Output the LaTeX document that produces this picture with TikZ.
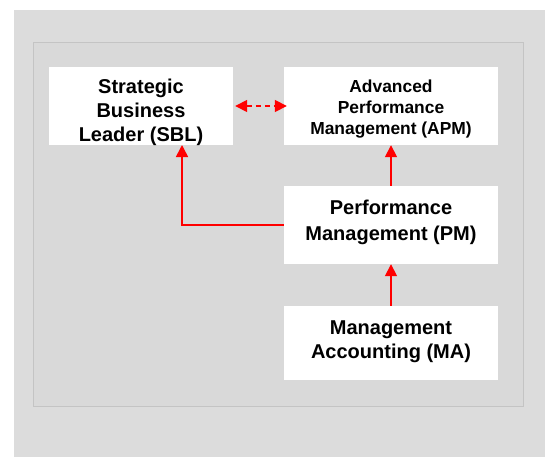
\documentclass[tikz,border=0pt]{standalone}
\usepackage{fontspec}
\setmainfont{Liberation Sans}
\usetikzlibrary{arrows.meta}
\definecolor{outerbg}{HTML}{DCDCDC}
\definecolor{innerbg}{HTML}{D9D9D9}
\definecolor{innerline}{HTML}{C4C4C4}
\definecolor{arrowred}{HTML}{FF0000}
\tikzset{
  box/.style={fill=white, draw=none, inner sep=0pt},
  txt/.style={inner sep=0pt, align=center, text=black},
  conn/.style={draw=arrowred, line width=1.6pt, -{Triangle[width=12pt,length=12pt]}},
  dconn/.style={draw=arrowred, line width=1.6pt, dash pattern=on 5pt off 4pt,
     {Triangle[width=12pt,length=12pt]}-{Triangle[width=12pt,length=12pt]}}
}
\begin{document}
\begin{tikzpicture}[x=1pt,y=-1pt]
\useasboundingbox (0,0) rectangle (545,457);
\fill[outerbg] (14,10) rectangle (545,457);
\filldraw[fill=innerbg, draw=innerline, line width=0.8pt] (33,42) rectangle (523,406);
% boxes
\node[box, minimum width=184pt, minimum height=78pt] (SBL) at (141,106) {};
\node[box, minimum width=214pt, minimum height=78pt] (APM) at (391,106) {};
\node[box, minimum width=214pt, minimum height=78pt] (PM) at (391,225) {};
\node[box, minimum width=214pt, minimum height=74pt] (MA) at (391,343) {};
% texts
\node[txt, font=\bfseries\fontsize{20}{24}\selectfont] (SBLt) at (141,112) {Strategic\\Business\\Leader (SBL)};
\node[txt, font=\bfseries\fontsize{17.4}{20.8}\selectfont] (APMt) at (391,109) {Advanced\\Performance\\Management (APM)};
\node[txt, font=\bfseries\fontsize{20}{26}\selectfont] (PMt) at (391,222) {Performance\\Management (PM)};
\node[txt, font=\bfseries\fontsize{20}{24}\selectfont] (MAt) at (391,342) {Management\\Accounting (MA)};
% connectors
\coordinate (sblin) at (182,145);
\draw[conn] (PM.west) -| (sblin);
\draw[conn] (PM.north) -- (APM.south);
\draw[conn] (MA.north) -- (PM.south);
\path (SBL.east) ++(2,0) coordinate (dl);
\path (APM.west) ++(3,0) coordinate (dr);
\draw[dconn] (dl) -- (dr);
\end{tikzpicture}
\end{document}
